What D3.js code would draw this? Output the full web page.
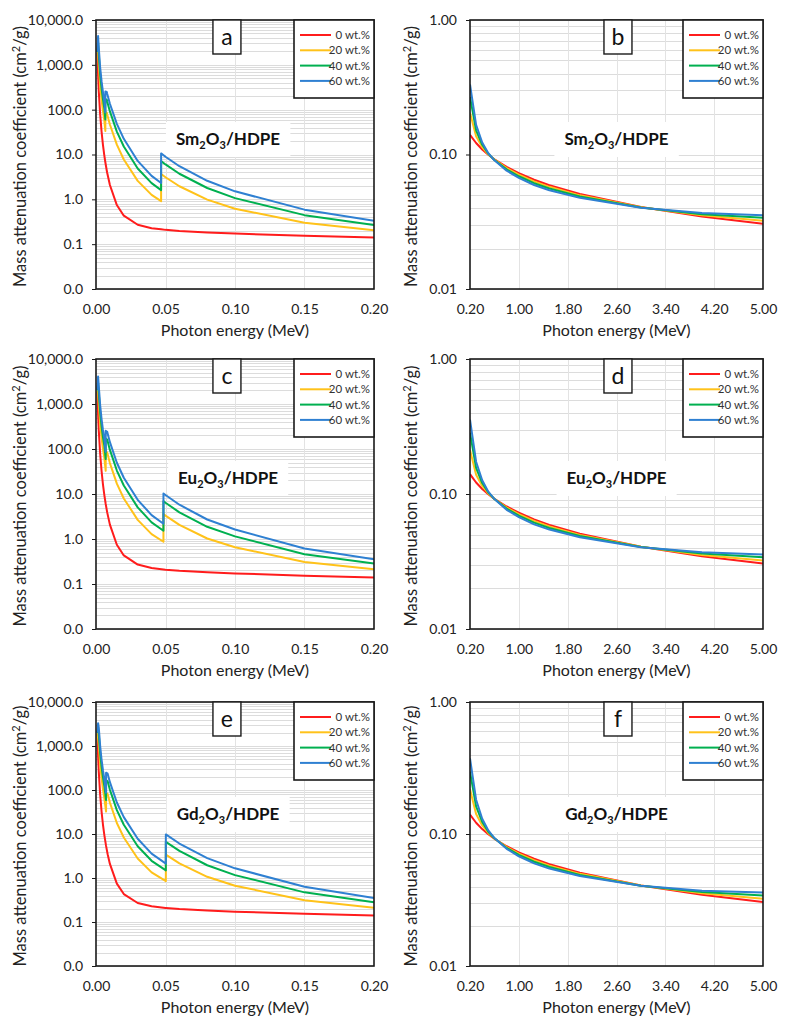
<!DOCTYPE html>
<html><head><meta charset="utf-8">
<script src="https://cdn.jsdelivr.net/npm/d3@7"></script>
<style>body{margin:0;background:#fff}</style>
</head><body>
<svg id="c" width="785" height="1022"></svg>
<script>
// ---------------- data ----------------
const seriesNames = ["0 wt.%", "20 wt.%", "40 wt.%", "60 wt.%"];
const seriesColors = ["#ff1c1c", "#ffc21a", "#00b050", "#2f80d2"];
const panelLetters = ["a", "b", "c", "d", "e", "f"];
const oxideNames = ["Sm", "Eu", "Gd"];

const lowXTicks = [0, 0.05, 0.10, 0.15, 0.20];
const lowXLabels = ["0.00", "0.05", "0.10", "0.15", "0.20"];
const highXTicks = [0.2, 1.0, 1.8, 2.6, 3.4, 4.2, 5.0];
const highXLabels = ["0.20", "1.00", "1.80", "2.60", "3.40", "4.20", "5.00"];
const lowYTicks = [0.01, 0.1, 1, 10, 100, 1000, 10000];
const lowYLabels = ["0.0", "0.1", "1.0", "10.0", "100.0", "1,000.0", "10,000.0"];
const highYTicks = [0.01, 0.1, 1];
const highYLabels = ["0.01", "0.10", "1.00"];

// Sm2O3/HDPE, 0.001-0.2 MeV
const smLowE  = [0.001,0.0015,0.002,0.003,0.004,0.005,0.006,0.00672,0.00672,0.00774,0.008,0.01,0.015,0.02,0.03,0.04,0.04683,0.04683,0.05,0.06,0.08,0.1,0.15,0.2];
const smLow0  = [1894,599.9,259.3,77.43,32.42,16.43,9.432,6.71,6.71,4.39,3.975,2.088,0.7452,0.4315,0.2706,0.2275,0.2141,0.2141,0.2084,0.1970,0.1823,0.1719,0.1534,0.1402];
const smLow20 = [1915.2,1859.9,967.4,341.9,165.9,93.1,57.5,33.4,89.4,85.5,79.2,46.7,16.6,7.75,2.58,1.26,0.911,3.671,3.107,1.958,0.986,0.618,0.299,0.204];
const smLow40 = [1936.4,3119.9,1675.6,606.5,299.5,169.9,105.7,60.0,172.0,166.6,154.4,91.3,32.4,15.06,4.88,2.30,1.608,7.128,6.005,3.718,1.789,1.063,0.444,0.268];
const smLow60 = [1957.6,4380,2383.7,871,433,246.6,153.8,86.7,254.7,247.8,229.6,135.8,48.3,22.37,7.19,3.33,2.306,10.586,8.903,5.479,2.593,1.509,0.589,0.332];

// Eu2O3/HDPE, 0.001-0.2 MeV
const euLowE  = [0.001,0.0015,0.002,0.003,0.004,0.005,0.006,0.00698,0.00698,0.00805,0.01,0.015,0.02,0.03,0.04,0.04852,0.04852,0.05,0.06,0.08,0.1,0.15,0.2];
const euLow0  = [1894,599.9,259.3,77.43,32.42,16.43,9.432,5.99,5.99,3.90,2.088,0.7452,0.4315,0.2706,0.2275,0.2111,0.2111,0.2084,0.1970,0.1823,0.1719,0.1534,0.1402];
const euLow20 = [1955.2,1759.9,1007.4,361.9,175.9,99.1,63.5,32.8,88.8,83.1,48.7,17.0,7.95,2.66,1.28,0.869,3.569,3.307,2.058,1.026,0.658,0.307,0.212];
const euLow40 = [2016.4,2920,1755.6,646.5,319.5,181.9,117.7,59.6,171.6,162.3,95.3,33.2,15.46,5.04,2.34,1.527,6.927,6.405,3.918,1.869,1.143,0.460,0.284];
const euLow60 = [2077.6,4080,2503.7,931,463,264.6,171.8,86.4,254.4,241.6,141.8,49.5,22.97,7.43,3.39,2.184,10.284,9.503,5.779,2.713,1.629,0.613,0.356];

// Gd2O3/HDPE, 0.001-0.2 MeV
const gdLowE  = [0.001,0.0015,0.002,0.003,0.004,0.005,0.006,0.00724,0.00724,0.00838,0.01,0.015,0.02,0.03,0.04,0.05,0.05024,0.05024,0.06,0.08,0.1,0.15,0.2];
const gdLow0  = [1894,599.9,259.3,77.43,32.42,16.43,9.432,5.37,5.37,3.46,2.088,0.7452,0.4315,0.2706,0.2275,0.2084,0.2081,0.2081,0.1970,0.1823,0.1719,0.1534,0.1402];
const gdLow20 = [1935.2,1499.9,1047.4,381.9,185.9,105.1,65.5,32.3,86.3,80.8,51.7,17.8,8.35,2.78,1.34,0.857,0.846,3.406,2.158,1.066,0.668,0.313,0.210];
const gdLow40 = [1976.4,2400,1835.6,686.5,339.5,193.9,121.7,59.2,167.2,158.1,101.3,34.8,16.26,5.28,2.46,1.505,1.485,6.605,4.118,1.949,1.163,0.472,0.280];
const gdLow60 = [2017.6,3300,2623.7,991,493,282.6,177.8,86.2,248.2,235.4,150.8,51.9,24.17,7.79,3.57,2.153,2.123,9.803,6.079,2.833,1.659,0.631,0.350];

// 0.2-5 MeV
const highE    = [0.2,0.3,0.4,0.5,0.6,0.8,1.0,1.25,1.5,2,3,4,5];
const high0    = [0.1402,0.1217,0.1089,0.09947,0.09198,0.08078,0.07262,0.06492,0.05910,0.05080,0.04069,0.03463,0.03053];
const smHigh20 = [0.204,0.1366,0.1135,0.1004,0.0915,0.0791,0.0707,0.0630,0.0575,0.0497,0.0405,0.0353,0.0321];
const smHigh40 = [0.268,0.1514,0.1181,0.1013,0.0910,0.0775,0.0689,0.0612,0.0559,0.0487,0.0403,0.0360,0.0338];
const smHigh60 = [0.332,0.1663,0.1228,0.1022,0.0905,0.0758,0.0670,0.0593,0.0542,0.0476,0.0402,0.0367,0.0354];
const euHigh20 = [0.2122,0.1390,0.1147,0.1010,0.0919,0.0793,0.0709,0.0631,0.0576,0.0498,0.0406,0.0354,0.0322];
const euHigh40 = [0.2841,0.1562,0.1205,0.1025,0.0918,0.0779,0.0691,0.0614,0.0560,0.0488,0.0405,0.0362,0.0340];
const euHigh60 = [0.3561,0.1735,0.1264,0.1040,0.0917,0.0764,0.0673,0.0596,0.0545,0.0478,0.0403,0.0370,0.0357];
const gdHigh20 = [0.2182,0.1418,0.1161,0.1018,0.0924,0.0796,0.0710,0.0633,0.0576,0.0499,0.0407,0.0355,0.0323];
const gdHigh40 = [0.2961,0.1618,0.1233,0.1041,0.0928,0.0784,0.0694,0.0616,0.0562,0.0490,0.0406,0.0363,0.0342];
const gdHigh60 = [0.3741,0.1819,0.1306,0.1064,0.0932,0.0772,0.0678,0.0599,0.0547,0.0480,0.0406,0.0372,0.0360];

// ---------------- layout ----------------
const FONT = "Lato, 'Open Sans', 'DejaVu Sans', sans-serif";
const rows = [{top: 20, bottom: 289}, {top: 359, bottom: 629}, {top: 702, bottom: 966}];
const cols = [{left: 96, right: 374, yTitleX: 20}, {left: 470, right: 763, yTitleX: 411}];

const panels = [
  {row: 0, col: 0, ox: 0, kind: "low",  x: smLowE, ys: [smLow0, smLow20, smLow40, smLow60]},
  {row: 0, col: 1, ox: 0, kind: "high", x: highE,  ys: [high0, smHigh20, smHigh40, smHigh60]},
  {row: 1, col: 0, ox: 1, kind: "low",  x: euLowE, ys: [euLow0, euLow20, euLow40, euLow60]},
  {row: 1, col: 1, ox: 1, kind: "high", x: highE,  ys: [high0, euHigh20, euHigh40, euHigh60]},
  {row: 2, col: 0, ox: 2, kind: "low",  x: gdLowE, ys: [gdLow0, gdLow20, gdLow40, gdLow60]},
  {row: 2, col: 1, ox: 2, kind: "high", x: highE,  ys: [high0, gdHigh20, gdHigh40, gdHigh60]},
];

const svg = d3.select("#c");

panels.forEach((p, pi) => {
  const r = rows[p.row], c = cols[p.col];
  const low = p.kind === "low";
  const x = d3.scaleLinear().domain(low ? [0, 0.2] : [0.2, 5]).range([c.left, c.right]);
  const y = d3.scaleLog().domain(low ? [0.01, 10000] : [0.01, 1]).range([r.bottom, r.top]);
  const xTicks = low ? lowXTicks : highXTicks;
  const xLabels = low ? lowXLabels : highXLabels;
  const yTicks = low ? lowYTicks : highYTicks;
  const yLabels = low ? lowYLabels : highYLabels;
  const g = svg.append("g");

  // horizontal (log minor) gridlines
  g.append("g").selectAll("line").data(y.ticks()).join("line")
    .attr("x1", c.left).attr("x2", c.right)
    .attr("y1", d => Math.round(y(d)) + 0.5).attr("y2", d => Math.round(y(d)) + 0.5)
    .attr("stroke", "#dcdcdc").attr("stroke-width", 1);
  // vertical gridlines
  g.append("g").selectAll("line").data(xTicks.slice(1, -1)).join("line")
    .attr("x1", d => Math.round(x(d)) + 0.5).attr("x2", d => Math.round(x(d)) + 0.5)
    .attr("y1", r.top).attr("y2", r.bottom)
    .attr("stroke", "#e3e3e3").attr("stroke-width", 1);

  // annotation (white backed)
  const annX = c.left + (c.right - c.left) * (low ? 0.475 : 0.50);
  const annY = r.top + (p.row === 2 ? 118 : 125);
  const ann = g.append("text").attr("x", annX).attr("y", annY)
    .attr("text-anchor", "middle").attr("font-family", FONT)
    .attr("font-size", 17).attr("font-weight", 700).attr("fill", "#111");
  ann.append("tspan").text(oxideNames[p.ox]);
  ann.append("tspan").attr("font-size", 11).attr("dy", 4).text("2");
  ann.append("tspan").attr("dy", -4).text("O");
  ann.append("tspan").attr("font-size", 11).attr("dy", 4).text("3");
  ann.append("tspan").attr("dy", -4).text("/HDPE");
  const bb = ann.node().getBBox();
  g.insert("rect", "text").attr("x", bb.x - 10).attr("y", bb.y - 6)
    .attr("width", bb.width + 20).attr("height", bb.height + 12).attr("fill", "#fff");

  // series lines
  const clipId = "clip" + pi;
  svg.append("clipPath").attr("id", clipId).append("rect")
    .attr("x", c.left).attr("y", r.top).attr("width", c.right - c.left).attr("height", r.bottom - r.top);
  const line = d3.line().x(d => x(d[0])).y(d => y(d[1]));
  p.ys.forEach((vals, si) => {
    g.append("path").datum(p.x.map((e, i) => [e, vals[i]]))
      .attr("d", line).attr("fill", "none")
      .attr("stroke", seriesColors[si]).attr("stroke-width", 2)
      .attr("stroke-linejoin", "round").attr("clip-path", `url(#${clipId})`);
  });

  // frame
  g.append("rect").attr("x", c.left).attr("y", r.top)
    .attr("width", c.right - c.left).attr("height", r.bottom - r.top)
    .attr("fill", "none").attr("stroke", "#1a1a1a").attr("stroke-width", 1.6);

  // y axis
  const ya = g.append("g").attr("transform", `translate(${c.left},0)`)
    .call(d3.axisLeft(y).tickValues(yTicks).tickFormat((d, i) => yLabels[i]).tickSize(4).tickPadding(9));
  ya.select(".domain").remove();
  ya.selectAll("line").attr("stroke", "#1a1a1a");
  ya.selectAll("text").attr("font-family", FONT).attr("font-size", 14).attr("fill", "#222");

  // x axis
  const xa = g.append("g").attr("transform", `translate(0,${r.bottom})`)
    .call(d3.axisBottom(x).tickValues(xTicks).tickFormat((d, i) => xLabels[i]).tickSize(0).tickPadding(15));
  xa.select(".domain").remove();
  xa.selectAll("text").attr("font-family", FONT).attr("font-size", 14).attr("fill", "#222");

  // axis titles
  g.append("text").attr("x", (c.left + c.right) / 2).attr("y", r.bottom + 47)
    .attr("text-anchor", "middle").attr("font-family", FONT).attr("font-size", 16).attr("fill", "#222")
    .text("Photon energy (MeV)");
  const yt = g.append("text").attr("transform", `translate(${c.yTitleX + 6},${(r.top + r.bottom) / 2 + 2}) rotate(-90)`)
    .attr("text-anchor", "middle").attr("font-family", FONT).attr("font-size", 16.5).attr("fill", "#222");
  yt.append("tspan").text("Mass attenuation coefficient (cm");
  yt.append("tspan").attr("font-size", 11).attr("dy", -6).text("2");
  yt.append("tspan").attr("dy", 6).text("/g)");

  // panel letter box
  const lcx = c.left + (c.right - c.left) * (low ? 0.471 : 0.505);
  g.append("rect").attr("x", lcx - 14).attr("y", r.top).attr("width", 28).attr("height", 34)
    .attr("fill", "#fff").attr("stroke", "#1a1a1a").attr("stroke-width", 1.4);
  g.append("text").attr("x", lcx).attr("y", r.top + 25).attr("text-anchor", "middle")
    .attr("font-family", FONT).attr("font-size", 23).attr("fill", "#111").text(panelLetters[pi]);

  // legend
  const lg = g.append("g").attr("transform", `translate(${c.right - 80},${r.top})`);
  lg.append("rect").attr("width", 80).attr("height", 78).attr("fill", "#fff")
    .attr("stroke", "#1a1a1a").attr("stroke-width", 1.6);
  seriesNames.forEach((nm, si) => {
    const ly = 15 + si * 15.3;
    lg.append("line").attr("x1", 6).attr("x2", 37).attr("y1", ly).attr("y2", ly)
      .attr("stroke", seriesColors[si]).attr("stroke-width", 2);
    lg.append("text").attr("x", 76).attr("y", ly + 4).attr("text-anchor", "end")
      .attr("font-family", FONT).attr("font-size", 11.5).attr("fill", "#333").text(nm);
  });
});
</script>
</body></html>
